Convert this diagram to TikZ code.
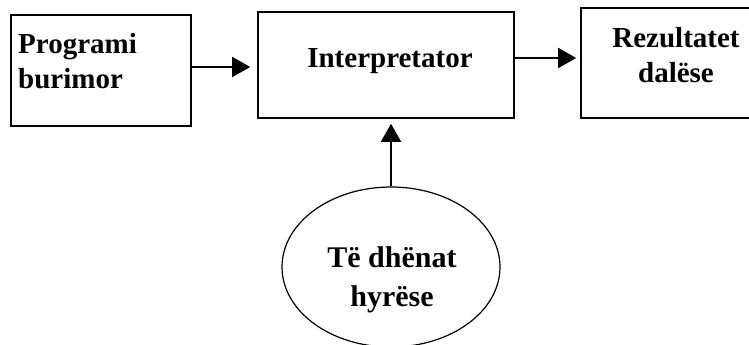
\documentclass[tikz,border=0pt]{standalone}
\usepackage{fontspec}
\setmainfont{Liberation Serif}
\usetikzlibrary{shapes.geometric,arrows.meta}
\begin{document}
\begin{tikzpicture}[x=1pt,y=-1pt,
  box/.style={draw=black, line width=1.6pt, rectangle, inner sep=0pt},
  oval/.style={draw=black, line width=1.2pt, ellipse, inner sep=0pt,
    minimum width=218pt, minimum height=160pt},
  lbl/.style={font=\fontsize{29}{35}\selectfont\bfseries, inner sep=0pt},
  arr/.style={line width=1.6pt, -{Triangle[length=18pt 0,width=20pt 0]}}]
\useasboundingbox (0,0) rectangle (749,345);
% boxes
\node[box, minimum width=180pt, minimum height=111pt] (src) at (101,70.5) {};
\node[box, minimum width=256pt, minimum height=106pt] (intp) at (386,65) {};
\node[box, minimum width=171pt, minimum height=110pt] (out) at (666.5,63) {};
% input data
\node[oval] (inp) at (391,267) {};
% texts
\node[lbl, anchor=west, align=left] (tsrc) at (18,60.7) {Programi\\burimor};
\node[lbl] (tintp) at (390,61.5) {Interpretator};
\node[lbl, align=center] (tout) at (676,55.3) {Rezultatet\\dalëse};
\node[lbl, font=\fontsize{30}{39}\selectfont\bfseries, align=center] (tinp) at (392,279.5) {Të dhënat\\hyrëse};
% connectors
\draw[arr, shorten >=7pt] ([yshift=3.5pt]src.east) -- ([yshift=-2pt]intp.west);
\draw[arr, shorten >=4pt] ([yshift=7pt]intp.east) -- ([yshift=5pt]out.west);
\draw[arr, shorten >=5pt] (inp.north) -- ([xshift=5pt]intp.south);
\end{tikzpicture}
\end{document}
